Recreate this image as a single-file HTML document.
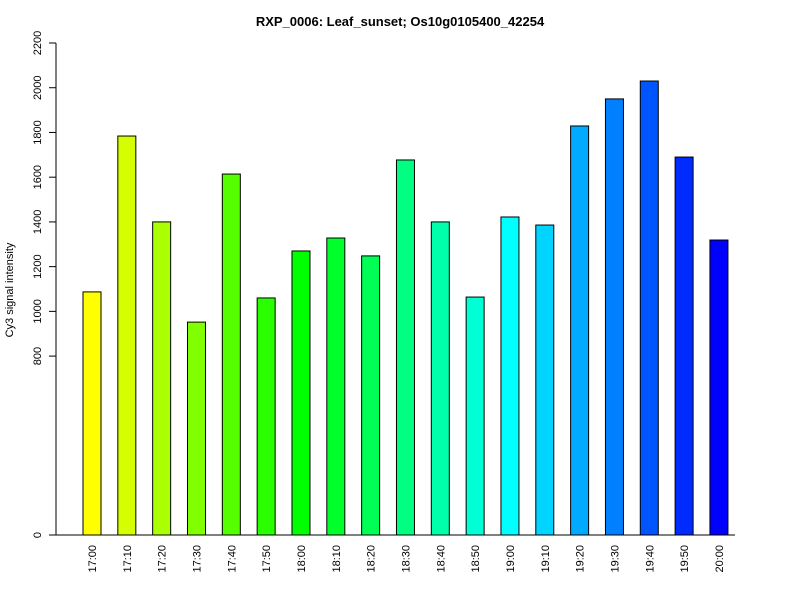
<!DOCTYPE html>
<html><head><meta charset="utf-8"><style>
body{margin:0;background:#fff}
svg{display:block;font-family:"Liberation Sans",Arial,sans-serif}
</style></head><body>
<svg id="chart" width="800" height="600">
<text x="400" y="26" text-anchor="middle" font-size="13" font-weight="bold">RXP_0006: Leaf_sunset; Os10g0105400_42254</text>
<text transform="translate(13,290) rotate(-90)" text-anchor="middle" font-size="11">Cy3 signal intensity</text>
<g id="yaxis"></g>
<g id="bars"></g>
<g id="xlabels"></g>
</svg>
<script>
const categories=["17:00","17:10","17:20","17:30","17:40","17:50","18:00","18:10","18:20","18:30","18:40","18:50","19:00","19:10","19:20","19:30","19:40","19:50","20:00"];
const values=[1087,1784,1400,952,1614,1060,1270,1328,1248,1677,1400,1064,1422,1386,1829,1950,2030,1690,1319];
const yTicks=[0,800,1000,1200,1400,1600,1800,2000,2200];
const NS="http://www.w3.org/2000/svg";
const y0=535,yTop=43,yMax=2200;
function yScale(v){return y0-(y0-yTop)*v/yMax;}
function xScale(i){return 83+i*34.83;}
const bw=18;
function mk(t,a,p){const e=document.createElementNS(NS,t);for(const k in a)e.setAttribute(k,a[k]);p.appendChild(e);return e;}
const ya=document.getElementById('yaxis');
mk('line',{x1:56,x2:56,y1:yScale(0),y2:yScale(2200),stroke:'#000'},ya);
yTicks.forEach(t=>{
  const y=yScale(t);
  const l=mk('line',{x1:49,x2:56,y1:y,y2:y,stroke:'#000'},ya);
  
  
  const tx=mk('text',{transform:`translate(41,${y}) rotate(-90)`,'text-anchor':'middle','font-size':'11'},ya);
  tx.textContent=t;
  
  
});
const bg=document.getElementById('bars');
const xl=document.getElementById('xlabels');
const xa=mk('line',{x1:56,x2:735,y1:y0,y2:y0,stroke:'#000'},bg);


values.forEach((v,i)=>{
  const x=xScale(i),y=yScale(v);
  const hue=60+i*(180/(values.length-1));
  const r=mk('rect',{x:x,y:y,width:bw,height:y0-y,fill:`hsl(${hue},100%,50%)`,stroke:'#000','stroke-width':1},bg);
  
  
  const t=mk('text',{transform:`translate(${x+bw/2+4},545) rotate(-90)`,'text-anchor':'end','font-size':'11'},xl);
  t.textContent=categories[i];
  
  
});
</script>
</body></html>
